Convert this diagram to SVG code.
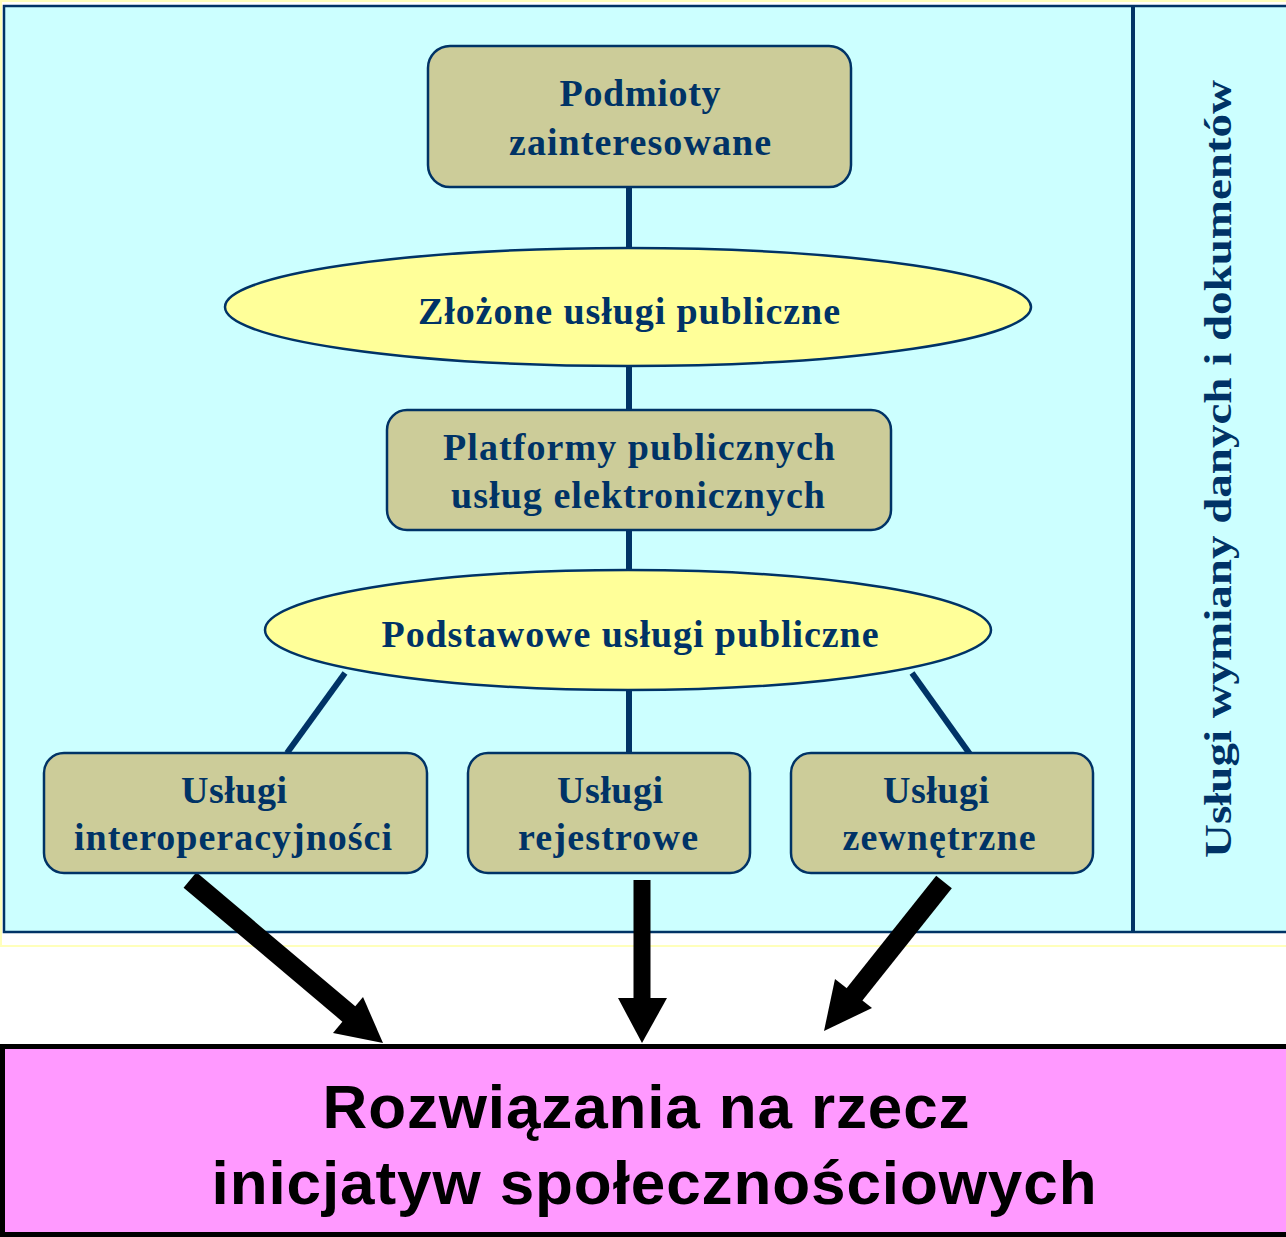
<svg xmlns="http://www.w3.org/2000/svg" width="1286" height="1237" viewBox="0 0 1286 1237">
<style>
.box{fill:#CCCC99;stroke:#003366;stroke-width:2.5}
.ell{fill:#FFFF99;stroke:#003366;stroke-width:2.5}
.t{font-family:"Liberation Serif","Times New Roman",serif;font-weight:bold;font-size:38px;fill:#003366;text-anchor:middle}
.ln{stroke:#003366;stroke-width:6;fill:none}
.big{font-family:"Liberation Sans",Arial,sans-serif;font-weight:bold;font-size:62px;fill:#000;text-anchor:middle}
</style>
<rect x="1" y="1" width="1290" height="945" fill="#FFFFFF" stroke="#FFFFBB" stroke-width="2"/>
<rect x="4" y="6" width="1290" height="926" fill="#CCFFFF" stroke="#003366" stroke-width="2.5"/>
<line x1="1133" y1="6" x2="1133" y2="932" stroke="#003366" stroke-width="4"/>
<text class="t" font-size="40" transform="translate(1231,469) rotate(-90)" textLength="778" lengthAdjust="spacingAndGlyphs">Usługi wymiany danych i dokumentów</text>
<g id="connectors">
<line class="ln" x1="629" y1="187" x2="629" y2="248"/>
<line class="ln" x1="629" y1="366" x2="629" y2="410"/>
<line class="ln" x1="629" y1="530" x2="629" y2="570"/>
<line class="ln" x1="629" y1="690" x2="629" y2="753"/>
<line class="ln" x1="345" y1="673" x2="287" y2="753"/>
<line class="ln" x1="912" y1="673" x2="972" y2="757"/>
<line x1="190" y1="880" x2="350" y2="1015" stroke="#000" stroke-width="20"/>
<polygon points="383,1043 333,1033 363,997" fill="#000"/>
<line x1="642" y1="880" x2="642" y2="1000" stroke="#000" stroke-width="17"/>
<polygon points="642,1043 618,998 667,998" fill="#000"/>
<line x1="944" y1="882" x2="850" y2="1000" stroke="#000" stroke-width="20"/>
<polygon points="824,1031 835,979 872,1008" fill="#000"/>
</g>
<g id="podmioty">
<rect class="box" x="428" y="46" width="423" height="141" rx="22"/>
<text class="t" x="640" y="106" textLength="161">Podmioty</text>
<text class="t" x="640" y="155" textLength="262">zainteresowane</text>
</g>
<g id="zlozone">
<ellipse class="ell" cx="628" cy="307" rx="403" ry="59"/>
<text class="t" x="629" y="324" textLength="422">Złożone usługi publiczne</text>
</g>
<g id="platformy">
<rect class="box" x="387" y="410" width="504" height="120" rx="20"/>
<text class="t" x="639" y="460" textLength="392">Platformy publicznych</text>
<text class="t" x="638" y="508" textLength="374">usług elektronicznych</text>
</g>
<g id="podstawowe">
<ellipse class="ell" cx="628" cy="630" rx="363" ry="60"/>
<text class="t" x="630" y="647" textLength="497">Podstawowe usługi publiczne</text>
</g>
<g id="interop">
<rect class="box" x="44" y="753" width="383" height="120" rx="20"/>
<text class="t" x="234" y="803" textLength="106">Usługi</text>
<text class="t" x="233" y="850" textLength="318">interoperacyjności</text>
</g>
<g id="rejestrowe">
<rect class="box" x="468" y="753" width="282" height="120" rx="20"/>
<text class="t" x="610" y="803" textLength="106">Usługi</text>
<text class="t" x="608" y="850" textLength="180">rejestrowe</text>
</g>
<g id="zewnetrzne">
<rect class="box" x="791" y="753" width="302" height="120" rx="20"/>
<text class="t" x="936" y="803" textLength="106">Usługi</text>
<text class="t" x="939" y="850" textLength="193">zewnętrzne</text>
</g>
<g id="rozwiazania">
<rect x="2.5" y="1046.5" width="1290" height="188" fill="#FF99FF" stroke="#000" stroke-width="5"/>
<text class="big" x="646" y="1128" textLength="647">Rozwiązania na rzecz</text>
<text class="big" x="654" y="1204" textLength="885">inicjatyw społecznościowych</text>
</g>
</svg>
